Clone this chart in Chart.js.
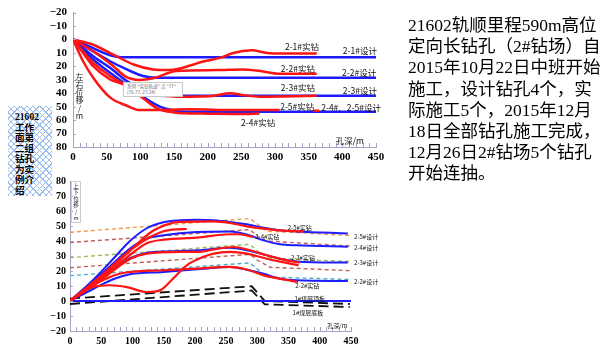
<!DOCTYPE html>
<html>
<head>
<meta charset="UTF-8">
<title>21602工作面第二组钻孔</title>
<script src="https://cdn.jsdelivr.net/npm/chart.js@4.4.1/dist/chart.umd.min.js"></script>
<style>
  body { margin:0; width:610px; height:350px; background:#fff; position:relative; overflow:hidden;
         font-family:"Noto Sans CJK SC", sans-serif; }
  canvas { position:absolute; left:0; top:0; }
  #note { position:absolute; left:408px; top:15px; font-family:"Liberation Serif","Noto Sans CJK SC",serif;
          font-size:17.5px; line-height:21.2px; color:#000; white-space:nowrap; }
  #tag { position:absolute; left:8px; top:106px; width:44px; height:90px; box-sizing:border-box;
         padding:6px 0 0 7px; font-weight:bold; font-size:9.6px; line-height:10.5px;
         font-family:"Liberation Serif","Noto Sans CJK SC",serif;
         background-color:#fff;
         background-image:repeating-linear-gradient(45deg,#9dbff0 0 1px,transparent 1px 4.5px),
                          repeating-linear-gradient(-45deg,#9dbff0 0 1px,transparent 1px 4.5px); }
  .vt { position:absolute; text-align:center; color:#222; }
  #tip { position:absolute; left:123px; top:82px; width:60px; height:15px; box-sizing:border-box;
         border:1px solid #c8c8c8; background:#fff; font-size:4.6px; line-height:5.5px; color:#666;
         padding:1px 0 0 3px; white-space:nowrap; }
</style>
</head>
<body>
<canvas id="lrChart" width="610" height="350"></canvas>
<canvas id="udChart" width="610" height="350"></canvas>

<div class="vt" style="left:75px;top:73px;width:9px;font-size:8px;line-height:7.8px;">左<br>右<br>位<br>移<br>/<br>m</div>
<div class="vt" style="left:71px;top:181px;width:8px;font-size:5.5px;line-height:6.4px;border:1px solid #ccc;padding:1px 0;">上<br>下<br>位<br>移<br>/<br>m</div>
<div id="tip">系列 "实钻轨迹" 点 "77"<br>(76.77, 27.24)</div>

<div id="tag">21602<br>工作<br>面第<br>二组<br>钻孔<br>为实<br>例介<br>绍</div>

<div id="note">21602轨顺里程590m高位<br>定向长钻孔（2#钻场）自<br>2015年10月22日中班开始<br>施工，设计钻孔4个，实<br>际施工5个，2015年12月<br>18日全部钻孔施工完成，<br>12月26日2#钻场5个钻孔<br>开始连抽。</div>

<script>
// ---- 左右位移 (top chart), [孔深, 位移] ----
var lrDesign21  = [[0,0],[15,3.2],[30,6.4],[50,10.8],[65,12.8],[80,13.3],[450,13.3]];
var lrDesign22  = [[0,0],[30,8.8],[55,16.2],[80,22.3],[104,27.2],[125,28.4],[450,28.4]];
var lrDesign23  = [[0,0],[30,12.5],[55,21.1],[80,30.9],[105,38],[130,41.9],[450,41.9]];
var lrDesign245 = [[0,0],[30,14.9],[55,24.8],[75,32.1],[105,43],[129,50],[150,52.8],[169,53.7],[450,53.7]];

var lrActual21 = [[0,0],[30,3.9],[60,11.3],[90,18.6],[119,22.3],[144,22.8],[179,18.6],[189,16.9],[218,13.7],[238,10],[265,8.1],[288,10],[307,10.5],[362,10.5]];
var lrActual22 = [[0,0],[30,8.8],[60,19.9],[77,27.2],[99,30.1],[119,28.9],[154,23.5],[213,22.8],[253,22.3],[278,23.5],[307,25.5],[362,25.5]];
var lrActual23 = [[0,0],[15,9],[30,17.4],[55,27.2],[75,32.8],[100,37.5],[130,41.5],[163,42.6],[189,42.4],[210,41.8],[233,40],[253,41.4],[278,42.6],[312,42.4],[362,41.9]];
var lrActual24 = [[0,0],[15,10],[30,19.9],[55,29.7],[75,33.5],[100,42],[124,51],[150,54.3],[173,55],[200,55.2],[248,55.5],[277,55]];
var lrActual25 = [[0,0],[15,16.2],[30,28.4],[55,43.1],[80,49.3],[99,52.5],[119,52.5],[174,52],[240,52.5],[307,52.4]];
var lrActual25b = [[357,53],[366,53]];

// ---- 上下位移 (bottom chart) ----
var udDesign25 = [[0,0],[37,14],[69,28],[96,40],[123,48.5],[150,52.5],[176,53.8],[203,54.2],[230,53.8],[256,52.7],[283,51.1],[310,48.9],[336,47.1],[363,46.4],[445,45]];
var udDesign24 = [[0,0],[37,13],[69,25],[96,35],[123,41.5],[150,43.8],[203,46],[256,46.4],[283,44.4],[310,40.4],[336,37.8],[363,37.1],[445,36.2]];
var udDesign23 = [[0,0],[37,11],[69,21],[96,28.5],[123,32.2],[150,33],[203,33.8],[256,35.5],[283,33.8],[310,31.1],[336,28.2],[363,26.4],[445,25.6]];
var udDesign22 = [[0,0],[37,8],[69,14.5],[96,17.8],[150,19.3],[203,21.1],[256,22.7],[283,20.9],[310,18.2],[336,14.9],[363,13.8],[445,13.3]];
var udZero     = [[0,0],[450,0]];

var udActual25 = [[0,0],[50,16],[100,35],[130,46],[160,51.6],[176,52.7],[230,53.1],[256,52],[283,49.8],[310,48.2],[336,47.1],[374,46.4]];
var udActualB  = [[0,0],[50,17],[100,35],[130,43],[150,46.5],[170,47.8],[187,48]];
var udActual24 = [[0,0],[50,15],[100,32],[123,38.5],[150,40.9],[203,42.2],[256,44.5],[270,44.5],[294,42.7]];
var udActual23 = [[0,0],[50,14],[96,28],[123,31.6],[176,32.7],[208,32.7],[230,34.4],[262,36],[288,33.8],[315,30.5],[342,27.6],[368,25.6]];
var udActualE  = [[0,0],[15,5],[37,9.3],[64,10.5],[91,9.3],[123,6],[144,7.1],[165,14.9],[187,23.8],[213,29.3],[230,31.6],[256,32.7],[283,31.6],[315,28.2],[366,23.8]];
var udActual22 = [[0,0],[40,11],[70,17],[90,19],[150,20.5],[203,21.6],[256,22.7],[283,21],[310,17.1],[336,14.9],[365,12.7]];

var udDashOrange = [[0,45.8],[288,55],[301,51],[315,46.5],[370,45.5],[450,43.6]];
var udDashBrown1 = [[0,39],[288,47.6],[301,43],[315,40],[450,36.6]];
var udDashOlive  = [[0,28.9],[288,37.8],[301,33],[320,28.5],[450,26.3]];
var udDashBrown2 = [[0,22.2],[288,31.1],[301,27],[320,22.5],[450,20.2]];
var udDashCyan   = [[0,16.9],[288,25.4],[301,21],[315,16],[450,14.3]];
var udCoalTop    = [[0,1.6],[291,9.8],[312,0],[448,-2]];
var udCoalBottom = [[0,-2],[291,7],[312,-2.2],[448,-4]];

// labels anchored at data points
var lrLabels = [["2-1#实钻",340,5.1],["2-1#设计",426,8.1],["2-2#实钻",334,22.1],["2-2#设计",425,25],
                ["2-3#实钻",334,36],["2-3#设计",426,38.2],["2-5#实钻",333,50],["2-4#、2-5#设计",413,50.7],
                ["2-4#实钻",275,61.8],["孔深/m",411,75.7]];
var udLabels = [["2-5#实钻",368,49.1],["2-4#实钻",316,43.1],["2-3#实钻",373,29.1],["2-2#实钻",380,10.5],
                ["1#煤层顶板",384,1.8],["1#煤层底板",381,-7.5],["孔深/m",428,-16.2]];
var udSideLabels = [["2-5#设计",455,43.1],["2-4#设计",455,35.8],["2-3#设计",455,25.5],["2-2#设计",455,13.1]];

var BLUE = "#1c1cff", RED = "#ff1414", AXIS = "#a4a4c8";

function line(pts, color, width, dash, order, smooth) {
  return {
    data: pts.map(function(p){ return {x:p[0], y:p[1]}; }),
    borderColor: color, borderWidth: width, borderDash: dash || [],
    pointRadius: 0, fill: false, order: order,
    tension: smooth ? 0.4 : 0,
    cubicInterpolationMode: smooth ? "monotone" : "default"
  };
}

// small inward ticks every 10 + text labels
var extras = {
  id: "extras",
  afterDraw: function(chart, args, opts) {
    var ctx = chart.ctx, x = chart.scales.x, y = chart.scales.y, v;
    ctx.save();
    ctx.strokeStyle = AXIS; ctx.lineWidth = 1;
    ctx.beginPath();
    for (v = x.min; v <= x.max; v += 10) {
      var px = Math.round(x.getPixelForValue(v)) + 0.5;
      ctx.moveTo(px, chart.chartArea.bottom); ctx.lineTo(px, chart.chartArea.bottom - 4);
    }
    for (v = y.min; v <= y.max; v += 10) {
      var py = Math.round(y.getPixelForValue(v)) + 0.5;
      ctx.moveTo(chart.chartArea.left, py); ctx.lineTo(chart.chartArea.left + 3, py);
    }
    ctx.stroke();
    ctx.fillStyle = "#111";
    ctx.font = opts.size + "px 'Noto Sans CJK SC'";
    ctx.textBaseline = "middle";
    ctx.textAlign = "center";
    (opts.labels || []).forEach(function(l){
      ctx.fillText(l[0], x.getPixelForValue(l[1]), y.getPixelForValue(l[2]));
    });
    ctx.textAlign = "left";
    (opts.side || []).forEach(function(l){
      ctx.fillText(l[0], x.getPixelForValue(l[1]), y.getPixelForValue(l[2]));
    });
    ctx.restore();
  }
};

function axes(yMin, yMax, reverse, yWidth, xHeight, fontSize, yPad, xPad) {
  var tickFont = {family: "'Liberation Serif'", size: fontSize, weight: "bold"};
  return {
    x: {type: "linear", min: 0, max: 450,
        ticks: {stepSize: 50, autoSkip: false, color: "#000", font: tickFont, padding: xPad, maxRotation: 0},
        grid: {display: false, drawTicks: false}, border: {color: AXIS, width: 1},
        afterFit: function(s){ s.height = xHeight; }},
    y: {type: "linear", min: yMin, max: yMax, reverse: reverse,
        ticks: {stepSize: 10, autoSkip: false, color: "#000", font: tickFont, padding: yPad,
                callback: function(v){ return v < 0 ? "\u2212" + Math.abs(v) : String(v); }},
        grid: {display: false, drawTicks: false}, border: {color: AXIS, width: 1},
        afterFit: function(s){ s.width = yWidth; }}
  };
}

var common = {
  responsive: false, animation: false, devicePixelRatio: 1,
  plugins: {legend: {display: false}, tooltip: {enabled: false}}
};

new Chart(document.getElementById("lrChart"), {
  type: "line",
  data: {datasets: [
    line(lrActual21, RED, 2.5, null, 0, true),
    line(lrActual22, RED, 2.5, null, 0, true),
    line(lrActual23, RED, 2.5, null, 0, true),
    line(lrActual24, RED, 2.5, null, 0, true),
    line(lrActual25, RED, 2.5, null, 0, true),
    line(lrActual25b, RED, 2.5, null, 0, false),
    line(lrDesign21, BLUE, 2.5, null, 1, true),
    line(lrDesign22, BLUE, 2.5, null, 1, true),
    line(lrDesign23, BLUE, 2.5, null, 1, true),
    line(lrDesign245, BLUE, 2.5, null, 1, true)
  ]},
  options: Object.assign({}, common, {
    layout: {padding: {left: 0, top: 11, right: 234, bottom: 350 - 147 - 22}},
    scales: axes(-20, 80, true, 73, 22, 11, 6, 4),
    plugins: Object.assign({}, common.plugins, {extras: {labels: lrLabels, size: 8.5}})
  }),
  plugins: [extras]
});

new Chart(document.getElementById("udChart"), {
  type: "line",
  data: {datasets: [
    line(udActual25, RED, 2.2, null, 0, true),
    line(udActualB,  RED, 2.2, null, 0, true),
    line(udActual24, RED, 2.2, null, 0, true),
    line(udActual23, RED, 2.2, null, 0, true),
    line(udActualE,  RED, 2.2, null, 0, true),
    line(udActual22, RED, 2.2, null, 0, true),
    line(udDesign25, BLUE, 2, null, 1, true),
    line(udDesign24, BLUE, 2, null, 1, true),
    line(udDesign23, BLUE, 2, null, 1, true),
    line(udDesign22, BLUE, 2, null, 1, true),
    line(udZero,     BLUE, 2, null, 1, false),
    line(udDashOrange, "#f79646", 1.4, [4,3], 2, false),
    line(udDashBrown1, "#c0605a", 1.4, [4,3], 2, false),
    line(udDashOlive,  "#9bbb59", 1.4, [4,3], 2, false),
    line(udDashBrown2, "#c0605a", 1.4, [4,3], 2, false),
    line(udDashCyan,   "#4bacc6", 1.4, [4,3], 2, false),
    line(udCoalTop,    "#111", 1.8, [10,5], 2, false),
    line(udCoalBottom, "#111", 1.8, [10,5], 2, false)
  ]},
  options: Object.assign({}, common, {
    layout: {padding: {left: 0, top: 181, right: 259, bottom: 350 - 331 - 17}},
    scales: axes(-20, 80, false, 70, 17, 10, 4, 4),
    plugins: Object.assign({}, common.plugins, {extras: {labels: udLabels, side: udSideLabels, size: 6}})
  }),
  plugins: [extras]
});
</script>
</body>
</html>
